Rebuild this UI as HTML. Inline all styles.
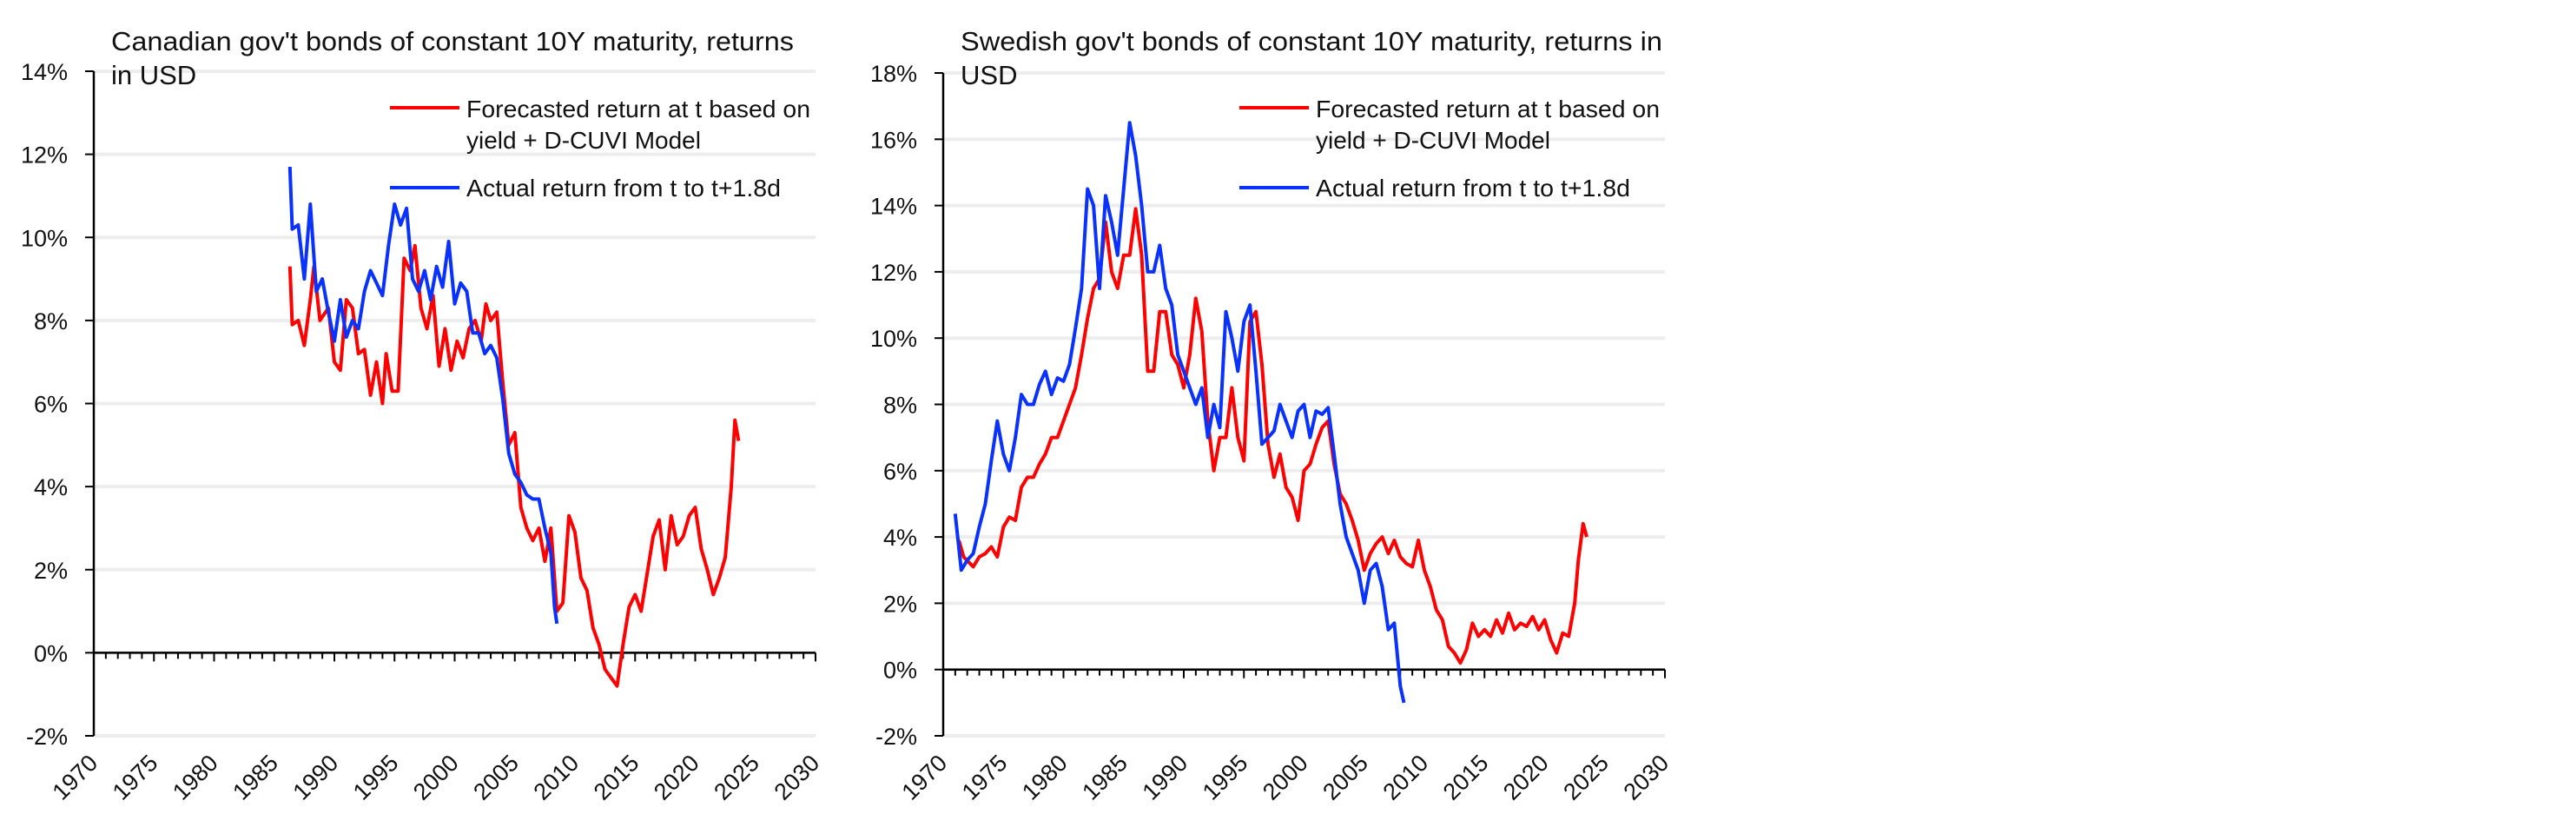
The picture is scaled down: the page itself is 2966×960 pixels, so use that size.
<!DOCTYPE html>
<html><head><meta charset="utf-8">
<style>
html,body{margin:0;padding:0;background:#fff;}
svg{display:block;font-family:"Liberation Sans",sans-serif;}
</style></head>
<body>
<svg id="chart" width="2966" height="960" viewBox="0 0 2966 960" xmlns="http://www.w3.org/2000/svg"></svg>
<script>
// ---- Canada data ----
const caRedYears = [1986.3,1986.5,1987,1987.5,1988,1988.3,1988.8,1989.5,1990,1990.5,1991,1991.5,1992,1992.5,1993,1993.5,1994,1994.3,1994.8,1995.3,1995.8,1996.3,1996.7,1997.2,1997.7,1998.2,1998.7,1999.2,1999.7,2000.2,2000.7,2001.2,2001.7,2002.2,2002.6,2003,2003.5,2004,2004.5,2005,2005.5,2006,2006.5,2007,2007.5,2008,2008.5,2009,2009.5,2010,2010.5,2011,2011.5,2012,2012.5,2013,2013.5,2014,2014.5,2015,2015.5,2016,2016.5,2017,2017.5,2018,2018.5,2019,2019.5,2020,2020.5,2021,2021.5,2022,2022.5,2023,2023.3,2023.6];
const caRedVals = [9.3,7.9,8.0,7.4,8.5,9.3,8.0,8.3,7.0,6.8,8.5,8.3,7.2,7.3,6.2,7.0,6.0,7.2,6.3,6.3,9.5,9.2,9.8,8.3,7.8,8.6,6.9,7.8,6.8,7.5,7.1,7.8,8.0,7.5,8.4,8.0,8.2,6.5,5.0,5.3,3.5,3.0,2.7,3.0,2.2,3.0,1.0,1.2,3.3,2.9,1.8,1.5,0.6,0.2,-0.4,-0.6,-0.8,0.2,1.1,1.4,1.0,1.9,2.8,3.2,2.0,3.3,2.6,2.8,3.3,3.5,2.5,2.0,1.4,1.8,2.3,4.0,5.6,5.1];
const caBlueYears = [1986.3,1986.5,1987,1987.5,1988,1988.5,1989,1989.5,1990,1990.5,1991,1991.5,1992,1992.5,1993,1993.5,1994,1994.5,1995,1995.5,1996,1996.5,1997,1997.5,1998,1998.5,1999,1999.5,2000,2000.5,2001,2001.5,2002,2002.5,2003,2003.5,2004,2004.5,2005,2005.5,2006,2006.5,2007,2007.5,2008,2008.3,2008.5];
const caBlueVals = [11.7,10.2,10.3,9.0,10.8,8.7,9.0,8.2,7.5,8.5,7.6,8.0,7.8,8.7,9.2,8.9,8.6,9.8,10.8,10.3,10.7,9.0,8.7,9.2,8.5,9.3,8.8,9.9,8.4,8.9,8.7,7.7,7.7,7.2,7.4,7.1,6.1,4.8,4.3,4.1,3.8,3.7,3.7,3.0,2.4,1.1,0.7];
const caTicks = [-2,0,2,4,6,8,10,12,14];
// ---- Sweden data ----
const seRedYears = [1971.3,1971.7,1972.5,1973,1973.5,1974,1974.5,1975,1975.5,1976,1976.5,1977,1977.5,1978,1978.5,1979,1979.5,1980,1980.5,1981,1981.5,1982,1982.5,1983,1983.5,1984,1984.5,1985,1985.5,1986,1986.5,1987,1987.5,1988,1988.5,1989,1989.5,1990,1990.5,1991,1991.5,1992,1992.5,1993,1993.5,1994,1994.5,1995,1995.5,1996,1996.5,1997,1997.5,1998,1998.5,1999,1999.5,2000,2000.5,2001,2001.5,2002,2002.5,2003,2003.5,2004,2004.5,2005,2005.5,2006,2006.5,2007,2007.5,2008,2008.5,2009,2009.5,2010,2010.5,2011,2011.5,2012,2012.5,2013,2013.5,2014,2014.5,2015,2015.5,2016,2016.5,2017,2017.5,2018,2018.5,2019,2019.5,2020,2020.5,2021,2021.5,2022,2022.5,2022.8,2023.2,2023.5];
const seRedVals = [3.9,3.4,3.1,3.4,3.5,3.7,3.4,4.3,4.6,4.5,5.5,5.8,5.8,6.2,6.5,7.0,7.0,7.5,8.0,8.5,9.5,10.6,11.5,11.8,13.5,12.0,11.5,12.5,12.5,13.9,12.5,9.0,9.0,10.8,10.8,9.5,9.2,8.5,9.5,11.2,10.2,7.5,6.0,7.0,7.0,8.5,7.0,6.3,10.5,10.8,9.2,6.8,5.8,6.5,5.5,5.2,4.5,6.0,6.2,6.8,7.3,7.5,6.2,5.3,5.0,4.5,3.9,3.0,3.5,3.8,4.0,3.5,3.9,3.4,3.2,3.1,3.9,3.0,2.5,1.8,1.5,0.7,0.5,0.2,0.6,1.4,1.0,1.2,1.0,1.5,1.1,1.7,1.2,1.4,1.3,1.6,1.2,1.5,0.9,0.5,1.1,1.0,2.0,3.3,4.4,4.0];
const seBlueYears = [1971,1971.5,1972,1972.5,1973,1973.5,1974,1974.5,1975,1975.5,1976,1976.5,1977,1977.5,1978,1978.5,1979,1979.5,1980,1980.5,1981,1981.5,1982,1982.5,1983,1983.5,1984,1984.5,1985,1985.5,1986,1986.5,1987,1987.5,1988,1988.5,1989,1989.5,1990,1990.5,1991,1991.5,1992,1992.5,1993,1993.5,1994,1994.5,1995,1995.5,1996,1996.5,1997,1997.5,1998,1998.5,1999,1999.5,2000,2000.5,2001,2001.5,2002,2002.5,2003,2003.5,2004,2004.5,2005,2005.5,2006,2006.5,2007,2007.5,2008,2008.3];
const seBlueVals = [4.7,3.0,3.3,3.5,4.3,5.0,6.3,7.5,6.5,6.0,7.0,8.3,8.0,8.0,8.6,9.0,8.3,8.8,8.7,9.2,10.3,11.5,14.5,14.0,11.5,14.3,13.5,12.5,14.5,16.5,15.5,14.0,12.0,12.0,12.8,11.5,11.0,9.5,9.0,8.5,8.0,8.5,7.0,8.0,7.3,10.8,10.0,9.0,10.5,11.0,9.0,6.8,7.0,7.2,8.0,7.5,7.0,7.8,8.0,7.0,7.8,7.7,7.9,6.5,5.0,4.0,3.5,3.0,2.0,3.0,3.2,2.5,1.2,1.4,-0.5,-1.0];
const seTicks = [-2,0,2,4,6,8,10,12,14,16,18];
const xTickYears = [1970,1975,1980,1985,1990,1995,2000,2005,2010,2015,2020,2025,2030];

const NS = "http://www.w3.org/2000/svg";
const svg = document.getElementById('chart');
function mk(tag, attrs, parent){ const e=document.createElementNS(NS,tag); for(const k in attrs) e.setAttribute(k,attrs[k]); (parent||svg).appendChild(e); return e; }

function drawChart(cfg){
  const g = mk('g',{});
  
  
  const xS = y => cfg.x0 + (y-1970)/60*(cfg.x1-cfg.x0);
  const yS = v => cfg.yBot - (v-cfg.vMin)/(cfg.vMax-cfg.vMin)*(cfg.yBot-cfg.yTop);
  cfg.ticks.forEach(t=>{
    const l = mk('line',{x1:cfg.x0,x2:cfg.x1,y1:yS(t),y2:yS(t),stroke:'#ededed','stroke-width':4},g);
    
    
    const tx = mk('text',{x:cfg.x0-30,y:yS(t)+10,'text-anchor':'end','font-size':27,fill:'#111'},g);
    tx.textContent = t+'%';
    
    
    mk('line',{x1:cfg.x0-10,x2:cfg.x0,y1:yS(t),y2:yS(t),stroke:'#000','stroke-width':2},g);
  });
  const ya = mk('line',{x1:cfg.x0,x2:cfg.x0,y1:yS(cfg.vMax),y2:yS(cfg.vMin),stroke:'#000','stroke-width':2.5},g);
  
  
  const y0 = yS(0);
  const xa = mk('line',{x1:cfg.x0,x2:cfg.x1,y1:y0,y2:y0,stroke:'#000','stroke-width':2.5},g);
  
  
  for(let yr=1970; yr<=2030; yr++){
    const major = (yr%5===0);
    mk('line',{x1:xS(yr),x2:xS(yr),y1:y0,y2:y0+(major?10:7),stroke:'#000','stroke-width':2},g);
  }
  xTickYears.forEach(yr=>{
    const x = xS(yr)+6, y = 880;
    const t = mk('text',{x:x,y:y,'text-anchor':'end','font-size':27,fill:'#111',transform:`rotate(-45 ${x} ${y})`},g);
    t.textContent = yr;
    
    
  });
  function series(xs, vs, color, name){
    const d = xs.map((x,i)=>(i?'L':'M')+xS(x).toFixed(1)+','+yS(vs[i]).toFixed(1)).join(' ');
    const p = mk('path',{d:d,fill:'none',stroke:color,'stroke-width':4,'stroke-linejoin':'round'},g);
    
    
  }
  series(cfg.redX, cfg.redV, '#ff0000', 'forecast-line');
  series(cfg.blueX, cfg.blueV, '#0a32ff', 'actual-return-line');
  const t1 = mk('text',{x:cfg.titleX,y:58,'font-size':31,fill:'#111',textLength:cfg.titleW,lengthAdjust:'spacingAndGlyphs'},g);
  t1.textContent = cfg.title1;
  
  
  const t2 = mk('text',{x:cfg.titleX,y:97,'font-size':31,fill:'#111'},g);
  t2.textContent = cfg.title2;
  
  
  const lg = mk('g',{},g);
  
  
  mk('line',{x1:cfg.legX,x2:cfg.legX+80,y1:124,y2:124,stroke:'#ff0000','stroke-width':4},lg);
  const l1 = mk('text',{x:cfg.legX+88,y:135,'font-size':28,fill:'#111',textLength:396,lengthAdjust:'spacingAndGlyphs'},lg);
  l1.textContent = 'Forecasted return at t based on';
  
  
  const l2 = mk('text',{x:cfg.legX+88,y:171,'font-size':28,fill:'#111'},lg);
  l2.textContent = 'yield + D-CUVI Model';
  mk('line',{x1:cfg.legX,x2:cfg.legX+80,y1:216,y2:216,stroke:'#0a32ff','stroke-width':4},lg);
  const l3 = mk('text',{x:cfg.legX+88,y:226,'font-size':28,fill:'#111',textLength:362,lengthAdjust:'spacingAndGlyphs'},lg);
  l3.textContent = 'Actual return from t to t+1.8d';
  
  
}

drawChart({name:'canada-chart',x0:108,x1:939,yTop:82,yBot:847,vMin:-2,vMax:14,ticks:caTicks,
  redX:caRedYears,redV:caRedVals,blueX:caBlueYears,blueV:caBlueVals,
  titleX:128,titleW:786,title1:"Canadian gov't bonds of constant 10Y maturity, returns",title2:'in USD',legX:449});
drawChart({name:'sweden-chart',x0:1086,x1:1917,yTop:84,yBot:847,vMin:-2,vMax:18,ticks:seTicks,
  redX:seRedYears,redV:seRedVals,blueX:seBlueYears,blueV:seBlueVals,
  titleX:1106,titleW:808,title1:"Swedish gov't bonds of constant 10Y maturity, returns in",title2:'USD',legX:1427});
</script>
</body></html>
